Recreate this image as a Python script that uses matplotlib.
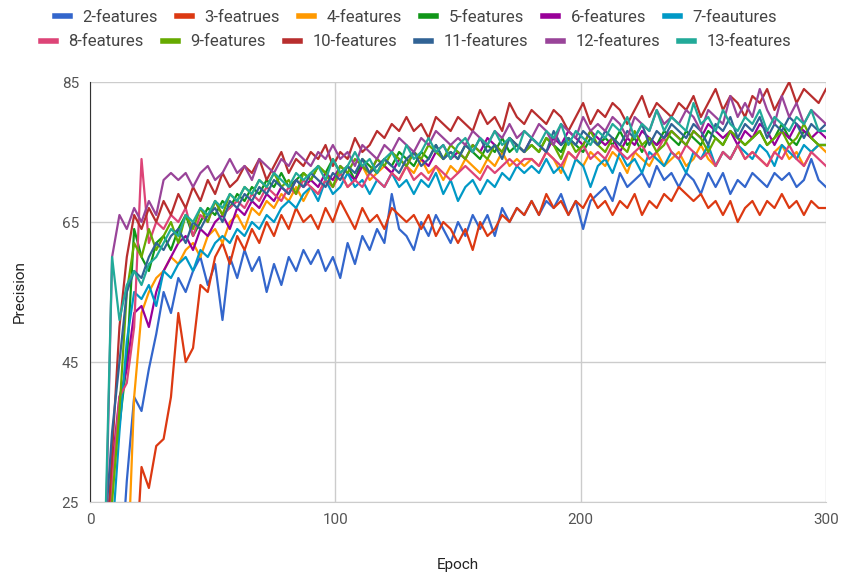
import matplotlib
matplotlib.use("Agg")
import matplotlib.pyplot as plt
from matplotlib.lines import Line2D

plt.rcParams['font.family'] = ['Roboto', 'DejaVu Sans']

epochs = list(range(0, 301, 3))

labels = ["2-features", "3-featrues", "4-features", "5-features", "6-features", "7-feautures",
          "8-features", "9-features", "10-features", "11-features", "12-features", "13-features"]
colors = ["#3366cc", "#dc3912", "#ff9900", "#109618", "#990099", "#0099c6",
          "#dd4477", "#66aa00", "#b82e2e", "#316395", "#994499", "#22aa99"]

f2 = [10,10,10,10,12,28,40,38,44,49,
      55,52,57,55,58,60,56,59,51,60,
      57,61,58,60,55,59,56,60,58,61,
      59,61,58,60,57,62,59,63,61,64,
      62,69,64,63,61,65,63,66,64,62,
      65,63,66,64,66,63,67,65,67,66,
      68,66,68,67,69,66,68,64,68,69,
      70,68,72,70,71,72,70,73,71,72,
      70,72,71,69,72,70,72,69,71,70,
      72,71,70,72,71,72,70,71,74,71,
      70]
f3 = [10,10,10,10,10,10,12,30,27,33,
      34,40,52,45,47,56,55,60,62,59,
      63,61,64,62,65,63,66,64,67,65,
      66,64,67,65,68,66,64,67,65,66,
      64,67,66,65,66,64,66,63,65,64,
      62,64,61,65,63,64,66,65,67,66,
      68,66,69,67,68,66,68,67,69,67,
      68,66,68,67,69,66,68,67,69,68,
      70,69,68,69,67,68,66,68,65,67,
      68,66,68,67,69,67,68,66,68,67,
      67]
f4 = [10,10,10,10,10,12,40,52,55,57,
      58,60,59,61,62,60,63,64,62,65,
      66,64,67,66,68,67,69,68,70,68,
      70,69,71,70,72,70,71,73,71,72,
      73,72,71,73,72,74,72,73,71,73,
      72,74,73,72,74,73,75,73,74,73,
      74,73,75,74,72,75,74,73,75,74,
      73,75,74,72,75,74,73,75,73,74,
      75,73,74,76,74,73,75,74,76,74,
      75,74,73,75,76,74,75,73,75,76,
      75]
f5 = [10,10,12,30,36,45,64,60,58,62,
      63,61,64,66,63,65,67,66,68,67,
      69,68,70,69,71,70,72,70,71,72,
      71,73,72,74,72,73,71,74,73,72,
      74,73,75,74,73,75,74,76,74,75,
      74,76,75,74,76,75,77,75,76,75,
      76,75,77,76,75,77,76,75,77,76,
      77,76,78,76,77,75,77,76,78,77,
      76,78,77,76,78,77,76,78,77,76,
      77,78,76,77,79,77,76,78,77,76,
      76]
f6 = [10,10,14,30,40,44,52,53,50,55,
      58,60,62,63,61,64,63,65,66,64,
      67,66,68,67,69,68,70,69,71,70,
      71,70,72,71,73,72,71,73,72,74,
      73,72,74,73,75,74,73,75,76,74,
      75,74,76,75,77,76,75,77,76,75,
      77,76,75,77,76,78,77,76,78,77,
      76,77,75,77,76,78,77,76,77,78,
      77,76,78,77,79,78,77,78,76,78,
      77,79,78,76,78,77,79,78,77,78,
      77]
f7 = [10,10,10,20,35,48,55,54,56,53,
      58,57,59,60,58,61,60,62,63,62,
      64,63,65,64,66,65,67,68,67,69,
      70,68,71,69,70,72,70,71,69,71,
      70,72,70,71,69,71,70,72,69,71,
      68,70,71,69,71,70,72,71,73,72,
      73,72,74,72,73,71,74,73,70,73,
      74,72,75,73,74,72,75,74,73,75,
      74,72,75,74,76,73,75,74,76,75,
      74,76,75,73,76,75,74,76,75,76,
      76]
f8 = [10,10,12,28,40,42,50,74,62,65,
      64,66,65,67,63,66,65,68,66,67,
      68,67,69,68,70,69,68,70,69,71,
      70,69,71,70,72,70,71,70,72,71,
      70,72,71,73,71,72,71,73,72,71,
      72,73,72,71,73,72,73,74,73,74,
      74,73,75,74,73,75,74,76,74,75,
      74,76,75,74,75,76,74,75,77,75,
      74,76,75,74,75,73,75,74,76,74,
      75,74,73,75,74,76,74,73,75,74,
      73]
f9 = [10,10,12,25,38,55,62,60,64,61,
      63,65,62,66,64,67,65,68,66,69,
      68,70,69,71,70,72,70,71,69,72,
      71,73,72,70,73,72,74,73,72,74,
      73,75,74,73,75,74,76,75,74,76,
      75,74,76,75,74,76,75,77,76,75,
      76,75,77,76,74,77,75,76,78,76,
      75,77,76,75,78,76,77,75,76,78,
      77,76,78,77,75,77,76,78,77,76,
      77,78,76,77,78,76,77,79,77,76,
      76]
f10 = [10,10,14,32,50,60,66,64,67,65,
       68,66,69,67,70,68,71,69,72,70,
       71,73,72,74,71,73,75,72,74,73,
       75,74,76,73,75,74,77,75,76,78,
       77,79,78,80,78,79,77,80,79,78,
       80,79,78,81,79,80,78,82,80,79,
       81,80,79,81,80,78,80,82,79,81,
       80,82,81,79,81,83,80,82,81,80,
       82,81,83,80,82,84,81,83,82,80,
       83,82,84,81,83,85,82,84,83,82,
       84]
f11 = [10,12,20,35,45,55,58,57,60,62,
       61,63,64,62,65,64,66,67,65,68,
       67,69,68,70,69,71,70,69,71,70,
       72,71,70,72,71,73,72,74,72,73,
       74,73,72,74,75,73,74,76,74,75,
       74,76,75,77,75,76,74,77,76,75,
       77,76,75,78,76,77,76,78,77,76,
       78,77,76,78,77,79,76,78,77,79,
       78,77,79,78,76,79,78,80,77,79,
       78,80,77,79,78,80,79,77,79,78,
       79]
f12 = [10,10,14,60,66,64,67,65,68,66,
       71,72,71,72,70,72,73,71,72,74,
       72,73,71,74,73,72,74,73,75,74,
       73,75,74,76,74,75,73,76,75,74,
       76,75,77,76,75,77,76,78,77,76,
       77,76,78,77,76,78,77,79,77,78,
       77,79,78,76,79,78,77,80,78,79,
       78,80,79,77,80,79,78,81,79,80,
       79,81,80,78,81,80,79,83,80,82,
       80,84,81,79,83,80,82,79,81,80,
       79]
f13 = [10,10,18,60,51,56,58,56,59,60,
       62,64,63,66,65,67,66,68,67,69,
       68,70,69,71,70,72,71,70,72,71,
       72,73,71,74,72,73,75,73,74,72,
       74,75,73,76,74,75,77,75,76,74,
       76,77,75,77,76,78,76,77,75,78,
       77,76,78,77,79,76,78,77,76,78,
       77,79,78,80,77,79,78,81,78,80,
       79,78,82,79,80,78,81,79,78,80,
       79,81,78,80,79,78,80,79,81,78,
       78]

series = [f2, f3, f4, f5, f6, f7, f8, f9, f10, f11, f12, f13]

y_ticks = [25, 45, 65, 85]
x_ticks = [0, 100, 200, 300]

fig = plt.figure(figsize=(8.44, 5.79), dpi=100)
ax = fig.add_axes([90/844, 1-502/579, (826-90)/844, (502-82)/579])

for vals, lab, col in zip(series, labels, colors):
    ax.plot(epochs, vals, color=col, lw=1.6, label=lab, solid_joinstyle='round')

ax.set_xlim(0, 300)
ax.set_ylim(25, 85)
ax.set_xticks(x_ticks)
ax.set_yticks(y_ticks)
ax.grid(True, color="#cccccc", lw=1)
ax.set_axisbelow(True)
for s in ['top', 'right']:
    ax.spines[s].set_visible(False)
ax.spines['bottom'].set_color("#cccccc")
ax.spines['left'].set_color("#333333")
ax.tick_params(length=0, labelsize=11, colors="#555555", pad=8)

fig.text(458/844, 1-565/579, "Epoch", fontsize=11, color="#222222", ha='center', va='center')
fig.text(20/844, 1-292/579, "Precision", fontsize=11, color="#222222", ha='center', va='center',
         rotation=90)

handles = [Line2D([], [], color=c, lw=4) for c in colors]
leg_kw = dict(loc='center', ncol=6, frameon=False, fontsize=12, handlelength=0.9,
              columnspacing=1.15, handletextpad=0.75, labelcolor="#444444")
fig.legend(handles[:6], labels[:6], bbox_to_anchor=(0.493, 1-17/579), **leg_kw)
fig.legend(handles[6:], labels[6:], bbox_to_anchor=(0.493, 1-42/579), **leg_kw)

fig.savefig("out.png", dpi=100)
